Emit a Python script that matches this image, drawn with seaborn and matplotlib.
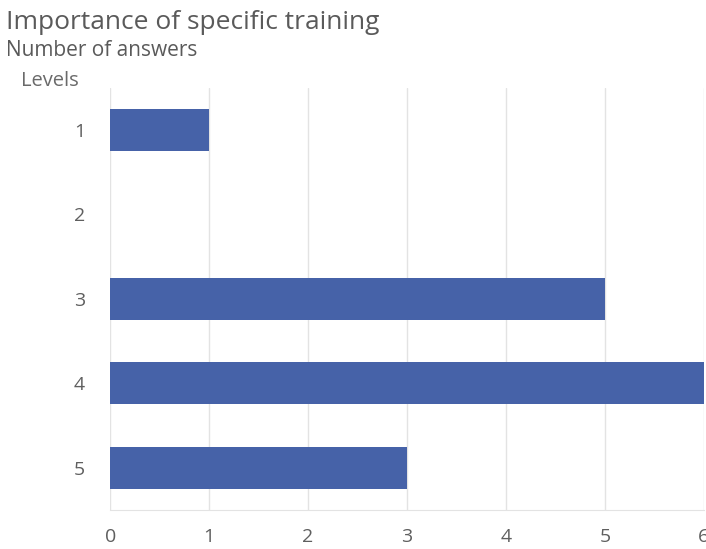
import pandas as pd
import seaborn as sns
import matplotlib.pyplot as plt

levels = ['1', '2', '3', '4', '5']
answers = [1, 0, 5, 6, 3]

df = pd.DataFrame({'level': levels, 'answers': answers})

sns.set_style('white')
plt.rcParams['font.family'] = ['Open Sans', 'DejaVu Sans']

fig = plt.figure(figsize=(7.06, 5.49), dpi=100)
ax = fig.add_axes([0.156, 0.071, 0.841, 0.769])

sns.barplot(data=df, x='answers', y='level', color='#4662a8', width=0.5,
            saturation=1, linewidth=0, ax=ax)

ax.set_xlim(0, 6)
ax.set_ylim(4.5, -0.5)
ax.set_xticks(range(7))
ax.grid(axis='x', color='#e3e3e3', linewidth=1)
ax.set_axisbelow(True)
for side in ['top', 'right', 'left']:
    ax.spines[side].set_visible(False)
ax.spines['bottom'].set_color('#e3e3e3')
ax.tick_params(axis='both', length=0, labelsize=14, labelcolor='#5f5f5f')
ax.tick_params(axis='x', pad=13)
ax.tick_params(axis='y', pad=18)
ax.set_xlabel('')
ax.set_ylabel('')

fig.text(0.008, 0.948, 'Importance of specific training', fontsize=19, color='#5a5a5a')
fig.text(0.008, 0.898, 'Number of answers', fontsize=15, color='#5a5a5a')
fig.text(0.03, 0.843, 'Levels', fontsize=14.5, color='#6a6a6a')

fig.savefig('out.png', dpi=100)
